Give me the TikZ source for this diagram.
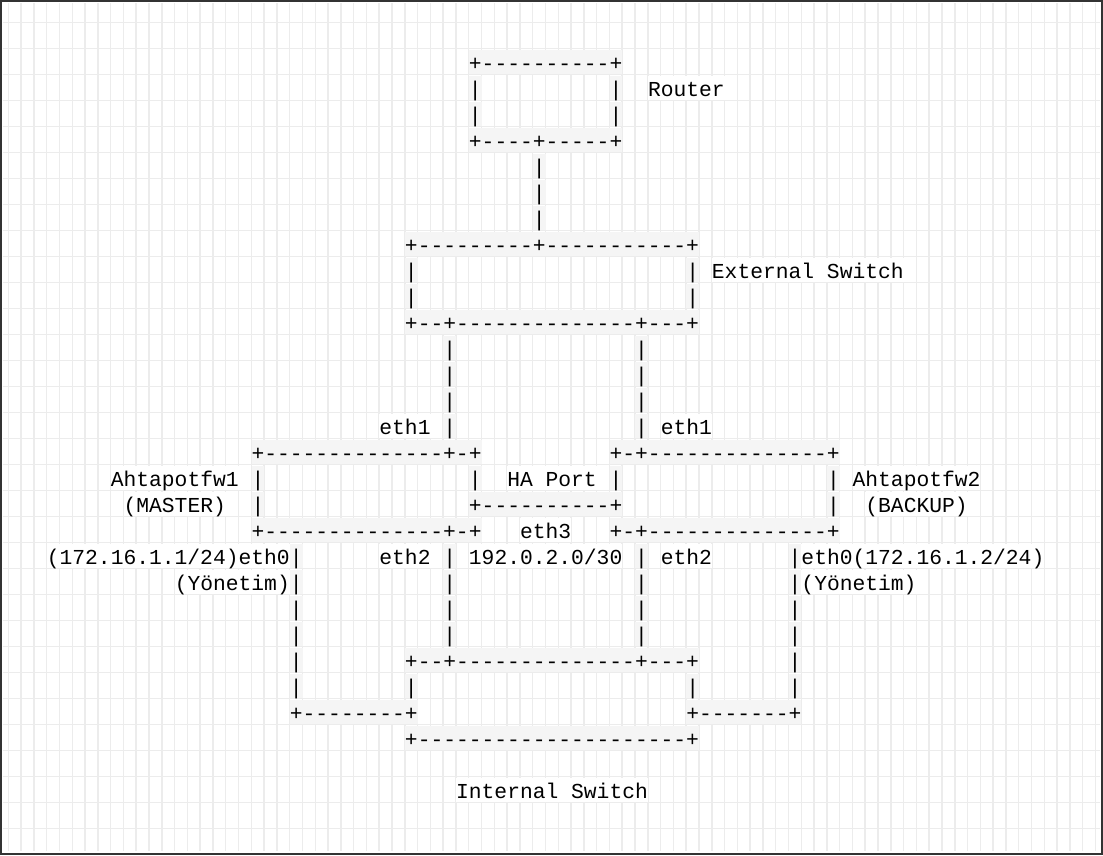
\documentclass[tikz,border=0pt]{standalone}
\usepackage{fontspec}
\setmonofont{Liberation Mono}
\definecolor{gridgray}{RGB}{236,236,236}
\definecolor{artbg}{RGB}{245,245,245}
\definecolor{framegray}{RGB}{51,51,51}

\begin{document}
\begin{tikzpicture}[x=12.79pt, y=-26pt,
	every node/.style={font=\ttfamily\fontsize{21.3}{26}\selectfont, anchor=base west,
		inner sep=0pt, text height=21pt, text depth=3pt},
	art/.style={fill=artbg},
	lbl/.style={fill=white},
	gridline/.style={draw=gridgray, line width=1.5pt}]
	\useasboundingbox (-0.649,0.127) rectangle (85.591,33.012);

	% Background grid
	\foreach \i in {0,...,85}
		\draw [gridline] (\i,0.254) -- (\i,32.848);
	\foreach \j in {1,...,32}
		\draw [gridline] (-0.438,\j) -- (85.36,\j);
	\draw [framegray, line width=2pt] (-0.571,0.165) rectangle (85.49,32.973);

	\begin{scope}[yshift=-22pt]
	% Router
	\node [art]	(rtTop)		at (36,2)	{+----------+};
	\node [art]	(rtL1)		at (36,3)	{|};
	\node [art]	(rtR1)		at (47,3)	{|};
	\node [lbl]	(rtName)	at (50,3)	{Router};
	\node [art]	(rtL2)		at (36,4)	{|};
	\node [art]	(rtR2)		at (47,4)	{|};
	\node [art]	(rtBot)		at (36,5)	{+----+-----+};
	\node [art]	(up1)		at (41,6)	{|};
	\node [art]	(up2)		at (41,7)	{|};
	\node [art]	(up3)		at (41,8)	{|};

	% External Switch
	\node [art]	(exTop)		at (31,9)	{+---------+-----------+};
	\node [art]	(exL1)		at (31,10)	{|};
	\node [art]	(exR1)		at (53,10)	{|};
	\node [lbl]	(exName)	at (55,10)	{External Switch};
	\node [art]	(exL2)		at (31,11)	{|};
	\node [art]	(exR2)		at (53,11)	{|};
	\node [art]	(exBot)		at (31,12)	{+--+--------------+---+};
	\node [art]	(exA1)		at (34,13)	{|};
	\node [art]	(exB1)		at (49,13)	{|};
	\node [art]	(exA2)		at (34,14)	{|};
	\node [art]	(exB2)		at (49,14)	{|};
	\node [art]	(exA3)		at (34,15)	{|};
	\node [art]	(exB3)		at (49,15)	{|};
	\node [lbl]	(fwAeth1)	at (29,16)	{eth1};
	\node [art]	(exA4)		at (34,16)	{|};
	\node [art]	(exB4)		at (49,16)	{|};
	\node [lbl]	(fwBeth1)	at (51,16)	{eth1};

	% Firewalls and HA port
	\node [art]	(fwATop)	at (19,17)	{+--------------+-+};
	\node [art]	(fwBTop)	at (47,17)	{+-+--------------+};
	\node [lbl]	(fwAName)	at (8,18)	{Ahtapotfw1};
	\node [art]	(fwAL1)		at (19,18)	{|};
	\node [art]	(haL)		at (36,18)	{|};
	\node [lbl]	(haName)	at (39,18)	{HA Port};
	\node [art]	(haR)		at (47,18)	{|};
	\node [art]	(fwBR1)		at (64,18)	{|};
	\node [lbl]	(fwBName)	at (66,18)	{Ahtapotfw2};
	\node [lbl]	(fwARole)	at (9,19)	{(MASTER)};
	\node [art]	(fwAL2)		at (19,19)	{|};
	\node [art]	(haBot)		at (36,19)	{+----------+};
	\node [art]	(fwBR2)		at (64,19)	{|};
	\node [lbl]	(fwBRole)	at (67,19)	{(BACKUP)};
	\node [art]	(fwABot)	at (19,20)	{+--------------+-+};
	\node [lbl]	(haEth)		at (40,20)	{eth3};
	\node [art]	(fwBBot)	at (47,20)	{+-+--------------+};

	% Links to Internal Switch
	\node [lbl]	(fwAeth0)	at (3,21)	{(172.16.1.1/24)eth0};
	\node [art]	(mgA1)		at (22,21)	{|};
	\node [lbl]	(fwAeth2)	at (29,21)	{eth2};
	\node [art]	(inA1)		at (34,21)	{|};
	\node [lbl]	(haNet)		at (36,21)	{192.0.2.0/30};
	\node [art]	(inB1)		at (49,21)	{|};
	\node [lbl]	(fwBeth2)	at (51,21)	{eth2};
	\node [art]	(mgB1)		at (61,21)	{|};
	\node [lbl]	(fwBeth0)	at (62,21)	{eth0(172.16.1.2/24)};
	\node [lbl]	(fwAmgmt)	at (13,22)	{(Yönetim)};
	\node [art]	(mgA2)		at (22,22)	{|};
	\node [art]	(inA2)		at (34,22)	{|};
	\node [art]	(inB2)		at (49,22)	{|};
	\node [art]	(mgB2)		at (61,22)	{|};
	\node [lbl]	(fwBmgmt)	at (62,22)	{(Yönetim)};
	\node [art]	(mgA3)		at (22,23)	{|};
	\node [art]	(inA3)		at (34,23)	{|};
	\node [art]	(inB3)		at (49,23)	{|};
	\node [art]	(mgB3)		at (61,23)	{|};
	\node [art]	(mgA4)		at (22,24)	{|};
	\node [art]	(inA4)		at (34,24)	{|};
	\node [art]	(inB4)		at (49,24)	{|};
	\node [art]	(mgB4)		at (61,24)	{|};

	% Internal Switch
	\node [art]	(mgA5)		at (22,25)	{|};
	\node [art]	(isTop)		at (31,25)	{+--+--------------+---+};
	\node [art]	(mgB5)		at (61,25)	{|};
	\node [art]	(mgA6)		at (22,26)	{|};
	\node [art]	(isL)		at (31,26)	{|};
	\node [art]	(isR)		at (53,26)	{|};
	\node [art]	(mgB6)		at (61,26)	{|};
	\node [art]	(mgABot)	at (22,27)	{+--------+};
	\node [art]	(mgBBot)	at (53,27)	{+-------+};
	\node [art]	(isBot)		at (31,28)	{+---------------------+};
	\node [lbl]	(isName)	at (35,30)	{Internal Switch};
	\end{scope}
\end{tikzpicture}
\end{document}
